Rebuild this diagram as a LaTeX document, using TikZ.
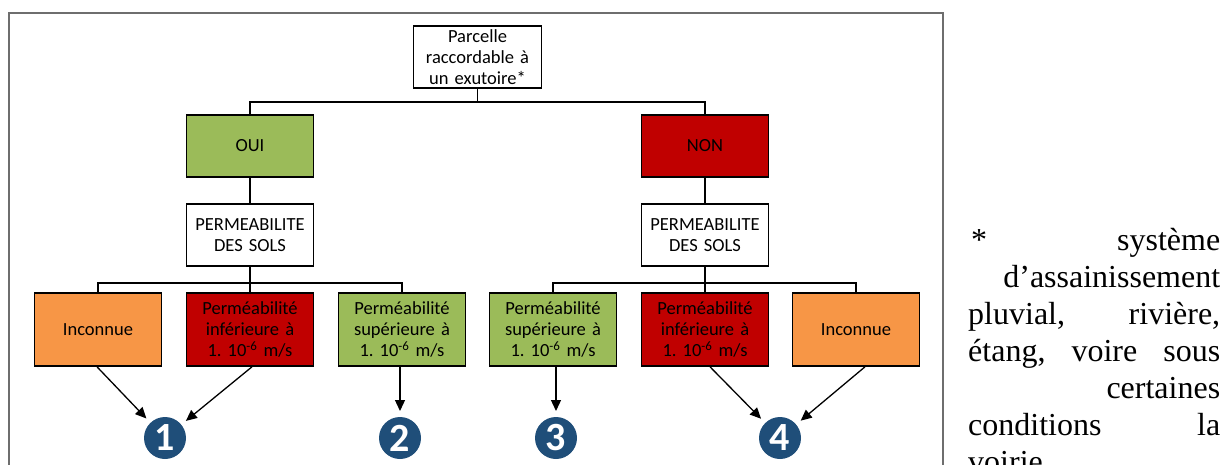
\documentclass[tikz,border=0pt]{standalone}
\usepackage{fontspec}
\setmainfont{Carlito}
\newfontfamily\notefont{Liberation Serif}
\usetikzlibrary{arrows.meta}
\definecolor{okgreen}{HTML}{9BBB59}
\definecolor{kored}{HTML}{C00000}
\definecolor{unkorange}{HTML}{F79646}
\definecolor{navyblue}{HTML}{1F4E79}
\definecolor{framegray}{HTML}{6E6E6E}
\frenchspacing
\begin{document}
\begin{tikzpicture}[x=1pt,y=-1pt,
  box/.style={draw=black,line width=1.6pt,inner sep=2pt,align=center,
    font=\fontsize{18.5}{21}\selectfont,minimum width=127pt,text width=122pt},
  rootbox/.style={box,minimum width=128pt,minimum height=62pt,fill=white},
  levelbox/.style={box,minimum height=62pt},
  leafbox/.style={box,minimum height=73pt},
  link/.style={line width=1.6pt},
  arr/.style={line width=1.3pt,-{Triangle[length=11pt,width=10pt]}},
  num/.style={circle,fill=navyblue,minimum size=42pt,inner sep=0pt,outer sep=6pt,
    text=white,font=\fontsize{40}{40}\selectfont\bfseries},
  note/.style={anchor=base west,inner sep=0pt,font=\notefont\fontsize{32}{37}\selectfont}]
\useasboundingbox (0,0) rectangle (1224,464);
\draw[framegray,line width=1.6pt] (9,470) -- (9,13) -- (943,13) -- (943,470);

\node[rootbox] (root) at (477.5,57) {Parcelle\\raccordable à\\un exutoire*};
\node[levelbox,fill=okgreen] (oui) at (250,146) {OUI};
\node[levelbox,fill=kored] (non) at (705,146) {NON};
\node[levelbox,fill=white] (p1) at (250,235) {PERMEABILITE\\DES SOLS};
\node[levelbox,fill=white] (p2) at (705,235) {PERMEABILITE\\DES SOLS};

\node[leafbox,fill=unkorange] (in1) at (98,329.5) {Inconnue};
\node[leafbox,fill=kored] (r1) at (250,329.5) {Perméabilité\\inférieure à\\1. 10\textsuperscript{-6} m/s};
\node[leafbox,fill=okgreen] (g1) at (402,329.5) {Perméabilité\\supérieure à\\1. 10\textsuperscript{-6} m/s};
\node[leafbox,fill=okgreen] (g2) at (553,329.5) {Perméabilité\\supérieure à\\1. 10\textsuperscript{-6} m/s};
\node[leafbox,fill=kored] (r2) at (705,329.5) {Perméabilité\\inférieure à\\1. 10\textsuperscript{-6} m/s};
\node[leafbox,fill=unkorange] (in2) at (856,329.5) {Inconnue};

\node[num] (c1) at (165,438) {1};
\node[num] (c2) at (400,438) {2};
\node[num] (c3) at (556,438) {3};
\node[num] (c4) at (780,438) {4};

\draw[link] (root.south) -- ++(0,13) -| (oui.north);
\draw[link] (root.south) -- ++(0,13) -| (non.north);
\draw[link] (oui.south) -- (p1.north);
\draw[link] (non.south) -- (p2.north);
\draw[link] (p1.south) -- ++(0,16) -| (in1.north);
\draw[link] (p1.south) -- ++(0,16) -| (g1.north);
\draw[link] (p1.south) -- (r1.north);
\draw[link] (p2.south) -- ++(0,16) -| (g2.north);
\draw[link] (p2.south) -- ++(0,16) -| (in2.north);
\draw[link] (p2.south) -- (r2.north);

\draw[arr] ([xshift=-1pt]in1.south) -- (c1);
\draw[arr] ([xshift=2pt]r1.south) -- (c1);
\draw[arr] (c2 |- g1.south) -- (c2);
\draw[arr] (c3 |- g2.south) -- (c3);
\draw[arr] ([xshift=5pt]r2.south) -- (c4);
\draw[arr] ([xshift=9pt]in2.south) -- (c4);

\node[note] (n1) at (968,250) {\hbox to 252pt{\hspace{3pt}*\hfill système}};
\node[note] (n2) at (968,287) {\hbox to 252pt{\hfill d’assainissement}};
\node[note] (n3) at (968,324) {\hbox to 252pt{pluvial,\hfill rivière,}};
\node[note] (n4) at (968,361) {\hbox to 252pt{étang,\hfill voire\hfill sous}};
\node[note] (n5) at (968,398) {\hbox to 252pt{\hfill certaines}};
\node[note] (n6) at (968,435) {\hbox to 252pt{conditions\hfill la}};
\node[note] (n7) at (968,472) {\hbox to 252pt{voirie\hfill}};
\end{tikzpicture}
\end{document}
